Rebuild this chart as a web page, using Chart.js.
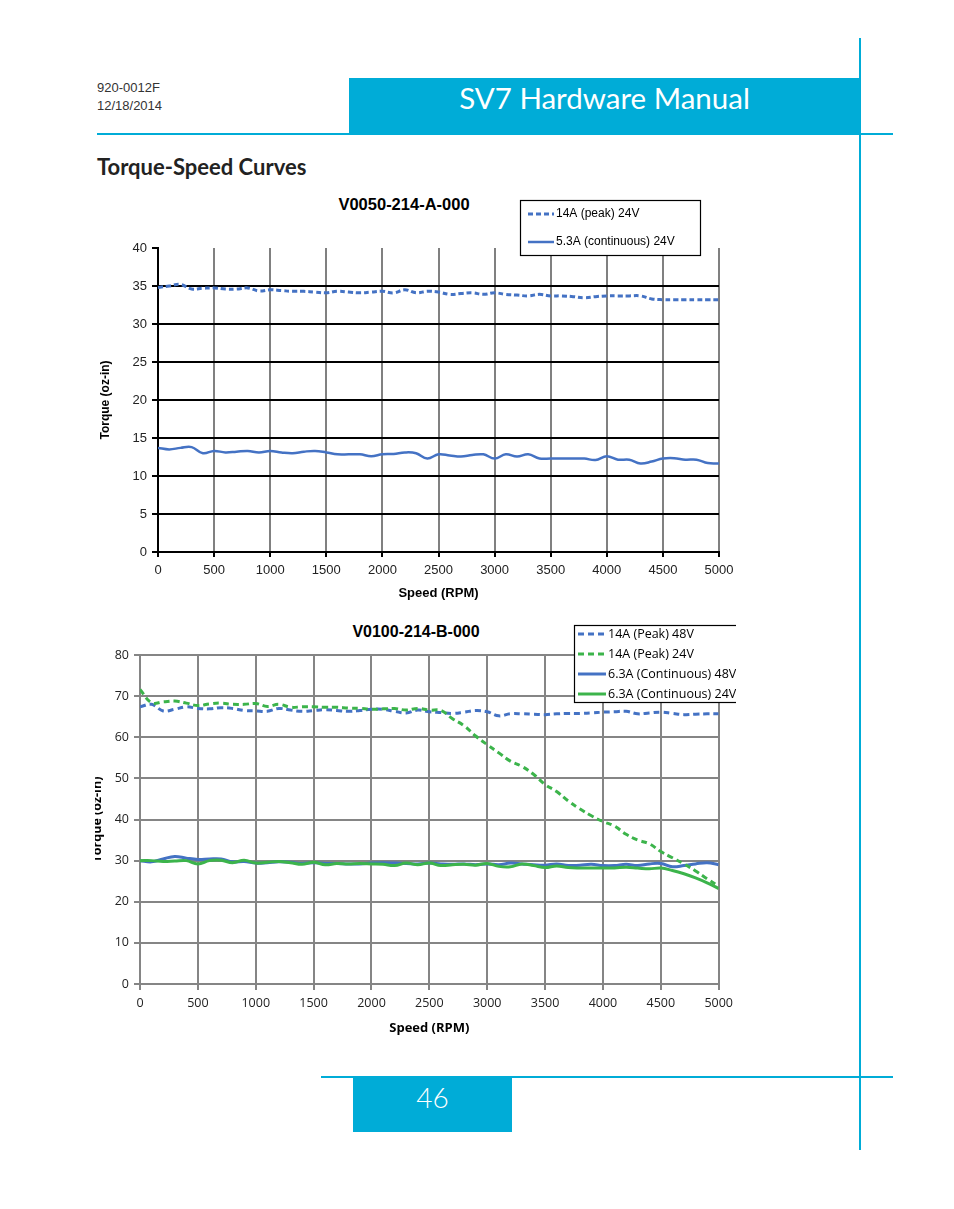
<!DOCTYPE html>
<html lang="en">
<head>
  <meta charset="UTF-8" />
  <title>SV7 Hardware Manual - Torque-Speed Curves</title>
  <script src="https://cdn.jsdelivr.net/npm/chart.js"></script>
  <style>
    body {
      margin: 0;
      background: #fff;
    }
    #page {
      position: relative;
      width: 954px;
      height: 1209px;
      overflow: hidden;
      font-family: Lato, "Open Sans", sans-serif;
    }
    .abs { position: absolute; }
    .blue { background: #00acd7; }
    .docno {
      left: 97px;
      font-family: "Liberation Sans Narrow", "Liberation Sans", sans-serif;
      font-size: 13px;
      color: #333;
      line-height: 16px;
    }
    .chartTitle {
      font-family: "Liberation Sans", Arial, sans-serif;
      font-weight: bold;
      font-size: 16px;
      color: #000;
      transform: translateX(-50%);
      white-space: nowrap;
    }
    canvas { position: absolute; }
  </style>
</head>
<body>
<div id="page">
  <div class="abs docno" style="top:80px">920-0012F</div>
  <div class="abs docno" style="top:98px">12/18/2014</div>
  <div class="abs blue" style="left:349px; top:78px; width:511px; height:56px;"></div>
  <div class="abs" style="left:349px; top:78px; width:511px; height:40px; line-height:40px; text-align:center; color:#fff; font-size:29.5px; font-weight:400;">SV7 Hardware Manual</div>
  <div class="abs blue" style="left:97px; top:133px; width:796px; height:2px;"></div>
  <div class="abs blue" style="left:859px; top:38px; width:1.5px; height:1112px;"></div>
  <div class="abs" style="left:97px; top:154px; font-size:22px; font-weight:bold; line-height:26px; color:#222;">Torque-Speed Curves</div>

  <div class="abs chartTitle" style="left:404px; top:195px; font-size:16.5px;">V0050-214-A-000</div>
  <canvas id="chartA" style="left:90px; top:190px; width:655px; height:420px;"></canvas>

  <div class="abs chartTitle" style="left:416px; top:623px;">V0100-214-B-000</div>
  <canvas id="chartB" style="left:95px; top:615px; width:644px; height:430px;"></canvas>

  <div class="abs blue" style="left:321px; top:1076px; width:572px; height:2px;"></div>
  <div class="abs blue" style="left:353px; top:1078px; width:159px; height:54px;"></div>
  <div class="abs" style="left:353px; top:1078px; width:159px; height:38px; line-height:38px; text-align:center; color:#fff; font-size:28px; font-weight:300;">46</div>
</div>

<script>
  // speed axis, both charts sampled every 100 rpm
  const speedRpm = [0, 100, 200, 300, 400, 500, 600, 700, 800, 900,
    1000, 1100, 1200, 1300, 1400, 1500, 1600, 1700, 1800, 1900,
    2000, 2100, 2200, 2300, 2400, 2500, 2600, 2700, 2800, 2900,
    3000, 3100, 3200, 3300, 3400, 3500, 3600, 3700, 3800, 3900,
    4000, 4100, 4200, 4300, 4400, 4500, 4600, 4700, 4800, 4900, 5000];

  // V0050-214-A-000
  const peak24A = [34.8, 35.0, 35.2, 34.6, 34.7, 34.75, 34.6, 34.6, 34.75, 34.35,
    34.5, 34.4, 34.3, 34.3, 34.2, 34.1, 34.3, 34.2, 34.1, 34.2,
    34.3, 34.1, 34.5, 34.1, 34.3, 34.2, 33.9, 34.0, 34.1, 33.9,
    34.1, 33.9, 33.8, 33.7, 33.9, 33.7, 33.7, 33.6, 33.45, 33.6,
    33.7, 33.7, 33.7, 33.7, 33.3, 33.2, 33.2, 33.2, 33.2, 33.2, 33.2];
  const cont24A = [13.7, 13.5, 13.7, 13.8, 13.0, 13.3, 13.1, 13.2, 13.3, 13.1,
    13.3, 13.1, 13.0, 13.2, 13.3, 13.1, 12.85, 12.85, 12.85, 12.6,
    12.85, 12.9, 13.1, 13.0, 12.3, 12.85, 12.7, 12.55, 12.75, 12.85,
    12.3, 12.85, 12.55, 12.85, 12.3, 12.3, 12.3, 12.3, 12.3, 12.1,
    12.6, 12.15, 12.15, 11.65, 11.9, 12.3, 12.35, 12.15, 12.15, 11.7, 11.65];

  // V0100-214-B-000
  const peak48B = [67.4, 68.0, 66.4, 66.8, 67.4, 67.0, 66.9, 67.2, 67.0, 66.5,
    66.4, 66.3, 67.0, 66.6, 66.3, 66.5, 66.7, 66.5, 66.3, 66.5,
    66.8, 66.8, 66.3, 65.9, 66.6, 66.2, 66.0, 65.8, 66.1, 66.5,
    66.2, 65.2, 65.7, 65.7, 65.6, 65.5, 65.7, 65.8, 65.8, 65.9,
    66.1, 66.2, 66.3, 65.7, 65.9, 66.1, 65.8, 65.5, 65.6, 65.7, 65.7];
  const peak24B = [71.6, 68.4, 68.6, 68.8, 68.3, 67.7, 68.1, 68.3, 68.0, 68.0,
    68.2, 67.5, 68.0, 67.3, 67.4, 67.4, 67.3, 67.3, 67.1, 67.0,
    66.8, 66.9, 67.0, 66.6, 67.0, 66.6, 66.5, 64.5, 62.8, 60.3,
    58.2, 56.2, 54.2, 52.9, 51.0, 48.5, 46.8, 44.5, 42.6, 40.9,
    39.5, 38.4, 36.4, 35.0, 34.1, 32.2, 30.7, 29.2, 27.5, 25.6, 23.8];
  const cont48B = [30.0, 29.7, 30.4, 31.0, 30.6, 30.3, 30.4, 30.4, 29.7, 29.8,
    29.4, 29.5, 29.7, 29.6, 29.3, 29.5, 29.3, 29.3, 29.2, 29.2,
    29.4, 29.5, 29.4, 29.3, 29.2, 29.4, 29.2, 29.1, 29.2, 29.0,
    29.2, 29.0, 29.4, 29.2, 29.0, 28.9, 29.2, 28.8, 28.9, 29.1,
    28.8, 28.8, 29.1, 28.8, 29.2, 29.3, 28.5, 28.8, 29.2, 29.5, 29.0];
  const cont24B = [30.0, 30.0, 29.8, 29.9, 30.0, 29.2, 30.0, 30.1, 29.5, 30.1,
    29.4, 29.6, 29.8, 29.5, 29.1, 29.6, 29.0, 29.3, 29.2, 29.3,
    29.2, 29.1, 28.8, 29.4, 29.0, 29.4, 28.8, 29.0, 29.1, 28.9,
    29.3, 28.6, 28.5, 29.2, 28.8, 28.3, 28.7, 28.3, 28.2, 28.2,
    28.2, 28.2, 28.4, 28.2, 28.0, 28.2, 27.6, 26.8, 25.8, 24.6, 23.2];

  const BLUE = '#4472c4';
  const GREEN = '#3cb44b';

  function pts(values) {
    return values.map((v, i) => ({ x: speedRpm[i], y: v }));
  }

  // plain numbers, no thousands separator
  const plain = v => String(v);

  // boxed legend drawn at a fixed spot, like the spreadsheet original
  const boxLegend = {
    id: 'boxLegend',
    afterDraw(chart, args, opts) {
      const ctx = chart.ctx;
      ctx.save();
      if (opts.clipW) {
        ctx.beginPath();
        ctx.rect(0, 0, opts.clipW, chart.height);
        ctx.clip();
      }
      ctx.fillStyle = '#fff';
      ctx.fillRect(opts.x, opts.y, opts.w, opts.h);
      ctx.strokeStyle = '#000';
      ctx.lineWidth = 1.2;
      ctx.strokeRect(opts.x + 0.5, opts.y + 0.5, opts.w, opts.h);
      chart.data.datasets.forEach((ds, i) => {
        const yy = opts.y + opts.rowTop + i * opts.rowGap;
        ctx.strokeStyle = ds.borderColor;
        ctx.lineWidth = ds.borderWidth;
        ctx.setLineDash(ds.borderDash || []);
        ctx.beginPath();
        ctx.moveTo(opts.x + opts.lineX, yy);
        ctx.lineTo(opts.x + opts.lineX + opts.lineW, yy);
        ctx.stroke();
        ctx.setLineDash([]);
        ctx.fillStyle = '#000';
        ctx.font = opts.font;
        ctx.textBaseline = 'middle';
        ctx.fillText(ds.label, opts.x + opts.lineX + opts.lineW + 2, yy);
      });
      ctx.restore();
    }
  };

  const arial = "'Liberation Sans', Arial, sans-serif";
  const calib = "'Open Sans', 'Liberation Sans', sans-serif";

  new Chart(document.getElementById('chartA'), {
    type: 'line',
    data: {
      datasets: [
        { label: '14A (peak) 24V', data: pts(peak24A), borderColor: BLUE, borderWidth: 3, borderDash: [5, 3] },
        { label: '5.3A (continuous) 24V', data: pts(cont24A), borderColor: BLUE, borderWidth: 2.5 }
      ]
    },
    options: {
      responsive: false,
      animation: false,
      layout: { padding: { top: 58, right: 26, left: 0, bottom: 0 } },
      elements: { point: { radius: 0 }, line: { tension: 0.4 } },
      plugins: {
        legend: { display: false },
        tooltip: { enabled: false },
        boxLegend: {
          x: 430, y: 10, w: 180, h: 55, rowTop: 14, rowGap: 28,
          lineX: 8, lineW: 26, font: '12px ' + arial
        }
      },
      scales: {
        x: {
          type: 'linear', min: 0, max: 5000,
          afterFit: s => { s.height = 58; },
          ticks: { stepSize: 500, callback: plain, color: '#222', font: { family: arial, size: 13 }, padding: 6, maxRotation: 0 },
          grid: { color: '#808080', lineWidth: 2, tickLength: 5, tickColor: '#000' },
          border: { color: '#000', width: 2 },
          title: { display: true, text: 'Speed (RPM)', color: '#000', font: { family: arial, size: 13, weight: 'bold' }, padding: { bottom: 9 } }
        },
        y: {
          min: 0, max: 40,
          afterFit: s => { s.width = 68; },
          ticks: { stepSize: 5, callback: plain, color: '#222', font: { family: arial, size: 13 }, padding: 5 },
          grid: {
            color: c => (c.tick && c.tick.value === 40) ? 'rgba(0,0,0,0)' : '#000',
            lineWidth: 2, tickLength: 6, tickColor: '#000'
          },
          border: { color: '#000', width: 2 },
          title: { display: true, text: 'Torque (oz-in)', color: '#000', font: { family: arial, size: 12, weight: 'bold' }, padding: { top: 8 } }
        }
      }
    },
    plugins: [boxLegend]
  });

  new Chart(document.getElementById('chartB'), {
    type: 'line',
    data: {
      datasets: [
        { label: '14A (Peak) 48V', data: pts(peak48B), borderColor: BLUE, borderWidth: 3, borderDash: [6, 4], order: 2 },
        { label: '14A (Peak) 24V', data: pts(peak24B), borderColor: GREEN, borderWidth: 3, borderDash: [6, 4], order: 1 },
        { label: '6.3A (Continuous) 48V', data: pts(cont48B), borderColor: BLUE, borderWidth: 3, order: 3 },
        { label: '6.3A (Continuous) 24V', data: pts(cont24B), borderColor: GREEN, borderWidth: 3, order: 0 }
      ]
    },
    options: {
      responsive: false,
      animation: false,
      layout: { padding: { top: 40, right: 14, left: 0, bottom: 0 } },
      elements: { point: { radius: 0 }, line: { tension: 0.4 } },
      plugins: {
        legend: { display: false },
        tooltip: { enabled: false },
        boxLegend: {
          x: 479, y: 10, w: 190, h: 77, rowTop: 9, rowGap: 20,
          lineX: 4, lineW: 28, font: '12.5px ' + calib, clipW: 641
        }
      },
      scales: {
        x: {
          type: 'linear', min: 0, max: 5000,
          afterFit: s => { s.height = 61; },
          ticks: { stepSize: 500, callback: plain, color: '#222', font: { family: calib, size: 12.5 }, padding: 6, maxRotation: 0 },
          grid: { color: '#858585', lineWidth: 2, tickLength: 6 },
          border: { color: '#858585', width: 2 },
          title: { display: true, text: 'Speed (RPM)', color: '#000', font: { family: calib, size: 13, weight: 'bold' }, padding: { bottom: 9 } }
        },
        y: {
          min: 0, max: 80,
          afterFit: s => { s.width = 45; },
          ticks: { stepSize: 10, callback: plain, color: '#222', font: { family: calib, size: 12.5 }, padding: 5 },
          grid: { color: '#858585', lineWidth: 2, tickLength: 6 },
          border: { color: '#858585', width: 2 },
          title: { display: true, text: 'Torque (oz-in)', color: '#000', font: { family: calib, size: 12.5, weight: 'bold', lineHeight: 0.4 }, padding: { top: 0 } }
        }
      }
    },
    plugins: [boxLegend]
  });
</script>
</body>
</html>
